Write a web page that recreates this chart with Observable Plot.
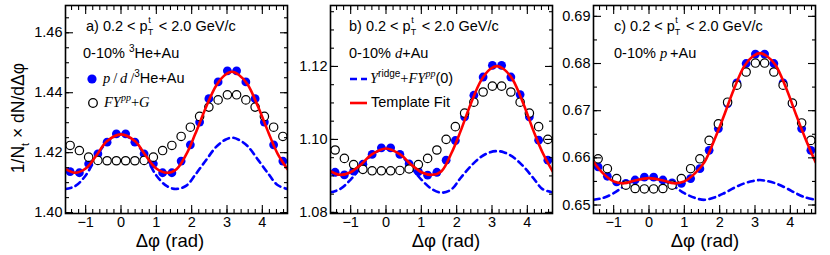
<!DOCTYPE html>
<html><head><meta charset="utf-8">
<script src="https://cdn.jsdelivr.net/npm/d3@7"></script>
<script src="https://cdn.jsdelivr.net/npm/@observablehq/plot@0.6"></script>
<style>
body{margin:0;background:#fff;}
#chart{position:relative;width:830px;height:255px;overflow:hidden;font-family:"Liberation Sans",Arial,sans-serif;color:#000;}
.t{position:absolute;white-space:nowrap;font-size:14.5px;line-height:14.5px;}
.s{font-family:"Liberation Serif","Times New Roman",serif;}
.s i, i.s{font-style:italic;}
.up{font-size:10px;position:relative;top:-6px;}
.ss{display:inline-block;position:relative;width:7px;height:1px;}
.sp{position:absolute;left:0.5px;top:-13.5px;font-size:9px;line-height:9px;}
.sb{position:absolute;left:0;top:-1.8px;font-size:9px;line-height:9px;}
</style></head><body><div id="chart"></div>
<script>
// bin centres (rad)
const phi = [-1.440,-1.178,-0.916,-0.654,-0.393,-0.131,0.131,0.393,0.654,0.916,1.178,1.440,1.702,1.963,2.225,2.487,2.749,3.011,3.272,3.534,3.796,4.058,4.320,4.581];

// panel a: 3He+Au
const blueA = [1.4137,1.4133,1.4163,1.4196,1.4235,1.4263,1.4263,1.4235,1.4196,1.4163,1.4133,1.4133,1.4172,1.4226,1.4302,1.4380,1.4436,1.4473,1.4473,1.4436,1.4380,1.4302,1.4226,1.4172];
const openA = [1.4224,1.4207,1.4185,1.4174,1.4173,1.4173,1.4173,1.4173,1.4174,1.4185,1.4207,1.4224,1.4254,1.4285,1.4321,1.4352,1.4376,1.4393,1.4393,1.4376,1.4352,1.4321,1.4285,1.4254];
// panel b: d+Au
const blueB = [1.0910,1.0903,1.0913,1.0932,1.0959,1.0977,1.0977,1.0959,1.0933,1.0912,1.0902,1.0910,1.0943,1.0997,1.1062,1.1121,1.1171,1.1203,1.1203,1.1171,1.1123,1.1062,1.0998,1.0943];
const openB = [1.0971,1.0948,1.0931,1.0918,1.0914,1.0914,1.0914,1.0915,1.0919,1.0931,1.0948,1.0971,1.1000,1.1035,1.1072,1.1102,1.1130,1.1146,1.1146,1.1130,1.1102,1.1072,1.1035,1.1000];
// panel c: p+Au
const blueC = [0.6581,0.6561,0.6549,0.6546,0.6553,0.6559,0.6559,0.6553,0.6547,0.6546,0.6556,0.6577,0.6616,0.6662,0.6715,0.6759,0.6800,0.6820,0.6820,0.6800,0.6759,0.6715,0.6662,0.6616];
const openC = [0.6598,0.6577,0.6556,0.6542,0.6535,0.6534,0.6534,0.6535,0.6542,0.6556,0.6577,0.6598,0.6637,0.6672,0.6718,0.6754,0.6782,0.6801,0.6801,0.6782,0.6754,0.6716,0.6674,0.6637];

// curves (template fit, ridge + FYpp(0)) read at these angles
const curveX = [-1.571,-1.3,-1.0,-0.7,-0.4,0,0.4,0.7,1.0,1.3,1.571,1.85,2.1,2.4,2.7,2.95,3.14,3.33,3.58,3.88,4.18,4.43,4.712];
const fitA   = [1.4145,1.4133,1.4147,1.4190,1.4238,1.4261,1.4238,1.4190,1.4147,1.4133,1.4145,1.4195,1.4262,1.4350,1.4425,1.4460,1.4470,1.4460,1.4428,1.4353,1.4265,1.4197,1.4145];
const ridgeA = [1.4079,1.4088,1.4124,1.4185,1.4235,1.4260,1.4235,1.4185,1.4124,1.4088,1.4079,1.4090,1.4126,1.4174,1.4220,1.4243,1.4250,1.4243,1.4222,1.4176,1.4128,1.4092,1.4079];
const fitB   = [1.0913,1.0903,1.0910,1.0932,1.0959,1.0975,1.0959,1.0932,1.0910,1.0903,1.0913,1.0962,1.1020,1.1098,1.1163,1.1193,1.1201,1.1193,1.1165,1.1100,1.1022,1.0964,1.0913];
const ridgeB = [1.0855,1.0864,1.0890,1.0925,1.0958,1.0974,1.0958,1.0925,1.0890,1.0864,1.0854,1.0863,1.0893,1.0927,1.0953,1.0965,1.0968,1.0965,1.0953,1.0927,1.0893,1.0864,1.0855];
const fitC   = [0.6591,0.6567,0.6550,0.6546,0.6552,0.6557,0.6552,0.6546,0.6550,0.6567,0.6591,0.6638,0.6685,0.6745,0.6795,0.6816,0.6822,0.6816,0.6797,0.6748,0.6688,0.6640,0.6591];
const ridgeC = [0.6511,0.6515,0.6525,0.6540,0.6552,0.6557,0.6552,0.6540,0.6525,0.6515,0.6511,0.6516,0.6524,0.6536,0.6546,0.6551,0.6553,0.6551,0.6546,0.6536,0.6524,0.6516,0.6511];

// tick labels
const xMajor = [-1,0,1,2,3,4];
const yMajorA = [1.40,1.42,1.44,1.46];
const yMajorB = [1.08,1.10,1.12];
const yMajorC = [0.65,0.66,0.67,0.68,0.69];

const chart = document.getElementById("chart");
const xMinor = d3.range(-7, 24).map(k => k / 5);

function makePanel(cfg) {
  const pts = phi.map((x, i) => ({x, b: cfg.blue[i], o: cfg.open[i]}));
  const crv = curveX.map((x, i) => ({x, f: cfg.fit[i], r: cfg.ridge[i]}));
  const fmtY = d3.format(".2f");
  const fmtX = d => d < 0 ? "\u2212" + Math.abs(d) : String(d);
  const tk = {strokeWidth: 1.1, fill: "none", label: null};
  const svg = Plot.plot({
    width: cfg.width, height: 255,
    marginLeft: cfg.ml, marginRight: cfg.mr, marginTop: 5, marginBottom: 42,
    x: {domain: [-Math.PI / 2, 3 * Math.PI / 2], label: null},
    y: {domain: cfg.yDomain, label: null},
    style: {fontFamily: "'Liberation Sans', Arial, sans-serif", fontSize: "14.5px", color: "#000", background: "transparent"},
    marks: [
      Plot.line(crv, {x: "x", y: "r", stroke: "#0000ff", strokeWidth: 2.6, strokeDasharray: "6,4.5", curve: "catmull-rom", clip: true}),
      Plot.dot(pts, {x: "x", y: "b", r: 4.4, fill: "#0000ff", stroke: "none"}),
      Plot.dot(pts, {x: "x", y: "o", r: 4.2, fill: "white", stroke: "#000", strokeWidth: 1.2}),
      Plot.line(crv, {x: "x", y: "f", stroke: "#ff0000", strokeWidth: 2.6, curve: "catmull-rom", clip: true}),
      Plot.axisY(cfg.yMinor, {anchor: "left", tickSize: -4, ...tk}),
      Plot.axisY(cfg.yMinor, {anchor: "right", tickSize: -4, ...tk}),
      Plot.axisY(cfg.yMajor, {anchor: "left", tickSize: -8, ...tk}),
      Plot.axisY(cfg.yMajor, {anchor: "right", tickSize: -8, ...tk}),
      Plot.axisX(xMinor, {anchor: "bottom", tickSize: -4, ...tk}),
      Plot.axisX(xMinor, {anchor: "top", tickSize: -4, ...tk}),
      Plot.axisX(xMajor, {anchor: "bottom", tickSize: -8, ...tk}),
      Plot.axisX(xMajor, {anchor: "top", tickSize: -8, ...tk}),
      Plot.axisY(cfg.yMajor, {anchor: "left", tickSize: 0, tickPadding: 3, tickFormat: fmtY, label: null}),
      Plot.axisX(xMajor, {anchor: "bottom", tickSize: 0, tickPadding: 3, tickFormat: fmtX, label: null}),
      Plot.frame({stroke: "#000", strokeWidth: 1.6})
    ]
  });
  svg.style.position = "absolute";
  svg.style.left = cfg.left + "px";
  svg.style.top = "0px";
  chart.appendChild(svg);
}

makePanel({left: 0, width: 290, ml: 65, mr: 3, yDomain: [1.3997, 1.4691], yMajor: yMajorA,
  yMinor: d3.range(0, 14).map(k => 1.40 + k * 0.005), blue: blueA, open: openA, fit: fitA, ridge: ridgeA});
makePanel({left: 290, width: 265, ml: 40, mr: 3, yDomain: [1.0797, 1.1367], yMajor: yMajorB,
  yMinor: d3.range(0, 12).map(k => 1.08 + k * 0.005), blue: blueB, open: openB, fit: fitB, ridge: ridgeB});
makePanel({left: 555, width: 275, ml: 38, mr: 15, yDomain: [0.6482, 0.6923], yMajor: yMajorC,
  yMinor: d3.range(0, 9).map(k => 0.65 + k * 0.005), blue: blueC, open: openC, fit: fitC, ridge: ridgeC});

function addText(html, left, cy, cls = "t", fs = 14.5) {
  const d = document.createElement("div");
  d.className = cls;
  d.style.left = left + "px";
  d.style.top = (cy - fs * 0.49) + "px";
  d.innerHTML = html;
  chart.appendChild(d);
  return d;
}
function addSvg(inner, left, top, w, h) {
  const ns = "http://www.w3.org/2000/svg";
  const s = document.createElementNS(ns, "svg");
  s.setAttribute("width", w); s.setAttribute("height", h);
  s.style.position = "absolute"; s.style.left = left + "px"; s.style.top = top + "px";
  s.innerHTML = inner;
  chart.appendChild(s);
}

const pt = `p<span class="ss"><span class="sp">t</span><span class="sb">T</span></span>`;
const range = `0.2 &lt; ${pt} &lt; 2.0 GeV/c`;

// panel a texts
addText(`a) ${range}`, 86, 26);
addText(`0-10% <span class="up">3</span>He+Au`, 83, 53);
addSvg(`<circle cx="6" cy="6" r="4.6" fill="#0000ff"/>`, 85.5, 73, 12, 12);
addText(`<span class="s"><i>p</i>&#8201;/&#8201;<i>d</i>&#8201;/</span><span class="up">3</span>He+Au`, 103, 78);
addSvg(`<circle cx="6" cy="6" r="4.3" fill="white" stroke="#000" stroke-width="1.3"/>`, 86.5, 96.5, 12, 12);
addText(`<span class="s"><i>FY</i><span class="up"><i>pp</i></span>+<i>G</i></span>`, 104, 102);

// panel b texts
addText(`b) ${range}`, 349, 26);
addText(`0-10% <i class="s">d</i>+Au`, 349, 53);
addSvg(`<line x1="0" y1="3" x2="17" y2="3" stroke="#0000ff" stroke-width="2.6" stroke-dasharray="7,4"/>`, 350, 75.5, 18, 6);
addText(`<i class="s">Y</i><span class="up">ridge</span><span class="s">+<i>FY</i><span class="up"><i>pp</i></span></span>(0)`, 370, 78);
addSvg(`<line x1="0" y1="3" x2="17" y2="3" stroke="#ff0000" stroke-width="2.6"/>`, 350, 99.5, 18, 6);
addText(`Template Fit`, 371, 102);

// panel c texts
addText(`c) ${range}`, 614, 26);
addText(`0-10% <i class="s">p</i>&#8201;+Au`, 614, 53);

// axis titles (x)
for (const cx of [170, 446, 705]) {
  const d = document.createElement("div");
  d.className = "t";
  d.style.fontSize = "18.5px"; d.style.lineHeight = "21px";
  d.style.left = cx + "px"; d.style.top = "230px";
  d.style.transform = "translateX(-50%)";
  d.innerHTML = `&Delta;&phi; (rad)`;
  chart.appendChild(d);
}
const yt = document.createElement("div");
yt.className = "t";
yt.style.fontSize = "17.5px"; yt.style.lineHeight = "17.5px";
yt.style.left = "22px"; yt.style.top = "118px";
yt.style.transform = "translate(-50%,-50%) rotate(-90deg)";
yt.innerHTML = `1/N<sub style="font-size:11px">t</sub> &times; dN/d&Delta;&phi;`;
chart.appendChild(yt);
</script>
</body></html>
